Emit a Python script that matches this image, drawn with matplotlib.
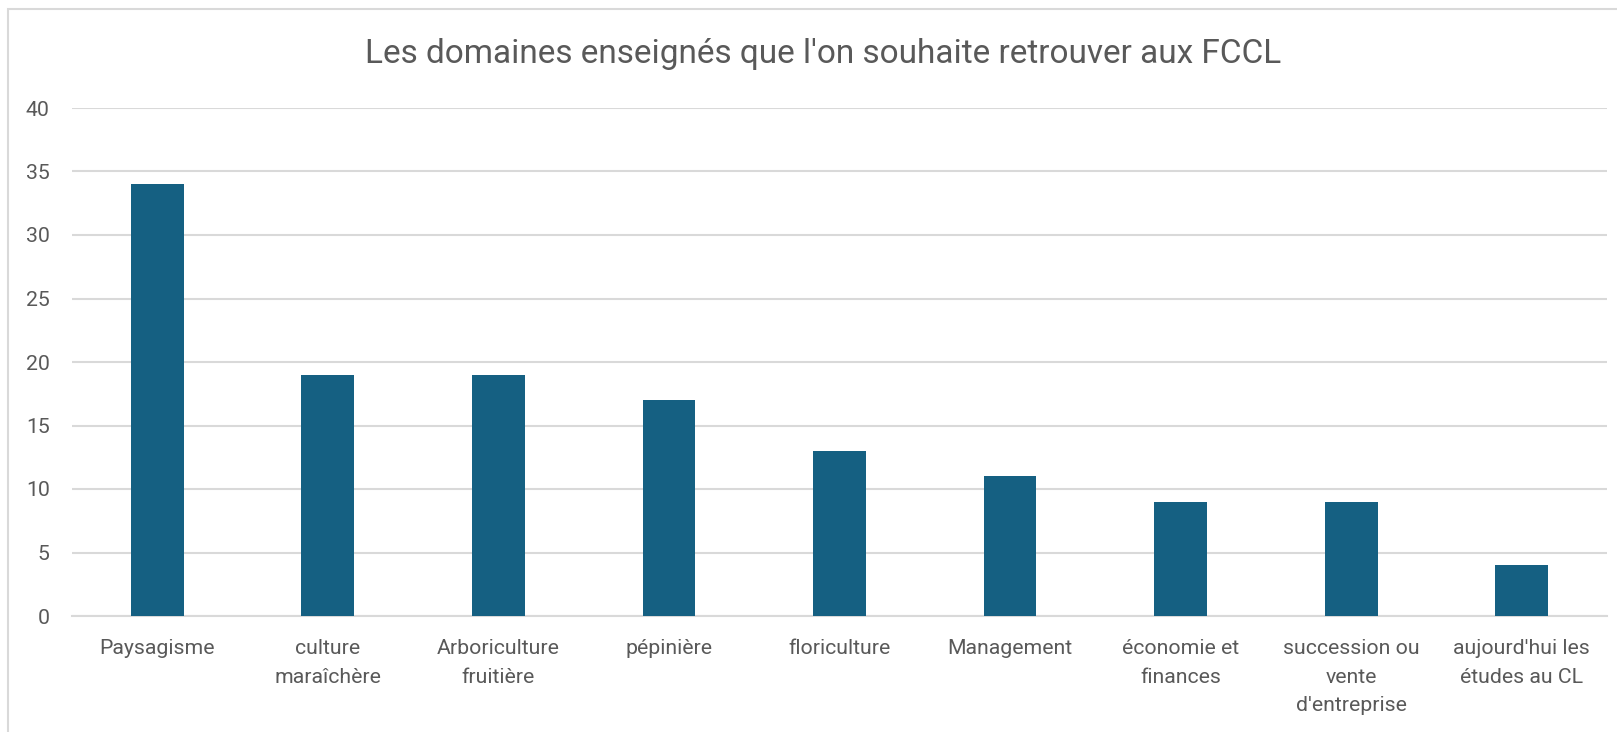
import matplotlib.pyplot as plt
from matplotlib.patches import Rectangle

# Data
categories = ["Paysagisme", "culture\nmaraîchère", "Arboriculture\nfruitière",
              "pépinière", "floriculture", "Management", "économie et\nfinances",
              "succession ou\nvente\nd'entreprise", "aujourd'hui les\nétudes au CL"]
values = [34, 19, 19, 17, 13, 11, 9, 9, 4]
yticks = [0, 5, 10, 15, 20, 25, 30, 35, 40]

BAR_COLOR = "#156082"
TEXT_COLOR = "#595959"
GRID_COLOR = "#d9d9d9"

plt.rcParams['font.family'] = ['Roboto', 'DejaVu Sans']

W, H = 1617, 732
fig = plt.figure(figsize=(W / 100, H / 100), dpi=100)

# chart frame (left/top edges visible, rest cut off)
fig.patches.append(Rectangle((8 / W, -0.1), 1.2, 1 - 9 / H + 0.1, transform=fig.transFigure,
                             fill=False, edgecolor=GRID_COLOR, linewidth=1.5))

ax = fig.add_axes([72 / W, 1 - 616 / H, (1607 - 72) / W, (616 - 108) / H])
x = range(len(categories))
ax.bar(x, values, width=0.31, color=BAR_COLOR, zorder=3)

ax.set_xlim(-0.5, len(categories) - 0.5)
ax.set_ylim(0, 40)
ax.set_yticks(yticks)
ax.set_xticks(list(x))
ax.set_xticklabels(categories, fontsize=15.3, color=TEXT_COLOR, linespacing=1.65, va='top')
ax.tick_params(axis='y', labelsize=15.3, labelcolor=TEXT_COLOR, length=0, pad=16)
ax.tick_params(axis='x', length=0, pad=16.5)
ax.grid(axis='y', color=GRID_COLOR, linewidth=1.5, zorder=0)
for s in ['top', 'right', 'left']:
    ax.spines[s].set_visible(False)
ax.spines['bottom'].set_color(GRID_COLOR)
ax.spines['bottom'].set_linewidth(1.5)

fig.text(0.509, 1 - 54 / H, "Les domaines enseignés que l'on souhaite retrouver aux FCCL",
         ha='center', va='center', fontsize=24, color=TEXT_COLOR)

fig.savefig("out.png", dpi=100)
